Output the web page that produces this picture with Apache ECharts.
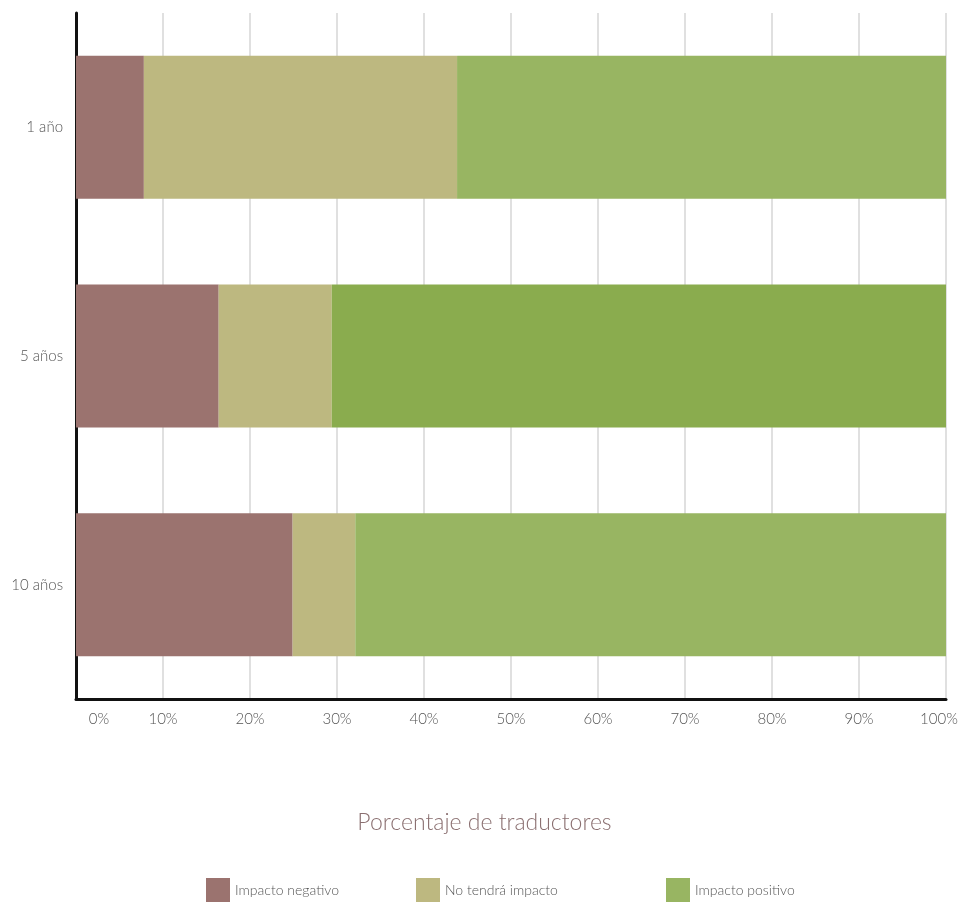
<!DOCTYPE html>
<html>
<head>
<meta charset="utf-8">
<script src="https://cdn.jsdelivr.net/npm/echarts@6/dist/echarts.min.js"></script>
<style>
  html, body { margin: 0; padding: 0; background: #fff; }
  #chart { width: 969px; height: 903px; }
</style>
</head>
<body>
<div id="chart"></div>
<script>
// datos (porcentajes)
var categories = ['10 años', '5 años', '1 año'];
var negativo = [24.9, 16.4, 7.8];
var neutro = [7.2, 13.0, 36.0];
var positivo = [67.9, 70.6, 56.2];
var xTicks = [0, 10, 20, 30, 40, 50, 60, 70, 80, 90, 100];

var FONT = 'Lato';
var cNeg = '#9b736f', cNeu = '#bdb880', cPos = '#98b562', cPos5 = '#8aac4e';

var myChart = echarts.init(document.getElementById('chart'));

function legendAt(name, left) {
    return {
        data: [{ name: name, icon: 'rect' }],
        left: left,
        top: 873,
        padding: 5,
        itemWidth: 24,
        itemHeight: 24,
        itemGap: 8,
        textStyle: { fontFamily: FONT, fontWeight: 300, fontSize: 14, color: '#555' },
        selectedMode: false
    };
}

var option = {
    animation: false,
    title: {
        text: 'Porcentaje de traductores',
        left: 'center',
        top: 806,
        textStyle: { fontFamily: FONT, fontWeight: 300, fontSize: 23, color: '#8a6f70' }
    },
    legend: [
        legendAt('Impacto negativo', 201),
        legendAt('No tendrá impacto', 411),
        legendAt('Impacto positivo', 661)
    ],
    grid: { left: 76, right: 23, top: 13, bottom: 204, containLabel: false },
    xAxis: {
        type: 'value',
        min: 0,
        max: 100,
        interval: 10,
        axisLine: { show: true, lineStyle: { color: '#111', width: 3 } },
        axisTick: { show: false },
        splitLine: { show: true, lineStyle: { color: '#e0e0e0', width: 2 } },
        axisLabel: {
            margin: 13,
            fontFamily: FONT, fontWeight: 300, fontSize: 15, color: '#555',
            formatter: function (v) {
                if (v === 0) return '{first|0%}';
                if (v === 100) return '{last|100%}';
                return v + '%';
            },
            rich: {
                first: { padding: [0, 0, 0, 46], fontFamily: FONT, fontWeight: 300, fontSize: 15, color: '#555' },
                last: { padding: [0, 14, 0, 0], fontFamily: FONT, fontWeight: 300, fontSize: 15, color: '#555' }
            }
        }
    },
    yAxis: {
        type: 'category',
        data: categories,
        axisLine: { show: true, lineStyle: { color: '#111', width: 3 } },
        axisTick: { show: false },
        axisLabel: { margin: 13, fontFamily: FONT, fontWeight: 300, fontSize: 15, color: '#555' }
    },
    series: [
        {
            name: 'Impacto negativo', type: 'bar', stack: 'total', barWidth: 143,
            itemStyle: { color: cNeg }, data: negativo
        },
        {
            name: 'No tendrá impacto', type: 'bar', stack: 'total', barWidth: 143,
            itemStyle: { color: cNeu }, data: neutro
        },
        {
            name: 'Impacto positivo', type: 'bar', stack: 'total', barWidth: 143,
            itemStyle: { color: cPos },
            data: positivo.map(function (v, i) {
                return categories[i] === '5 años' ? { value: v, itemStyle: { color: cPos5 } } : v;
            })
        }
    ]
};

myChart.setOption(option);
</script>
</body>
</html>
